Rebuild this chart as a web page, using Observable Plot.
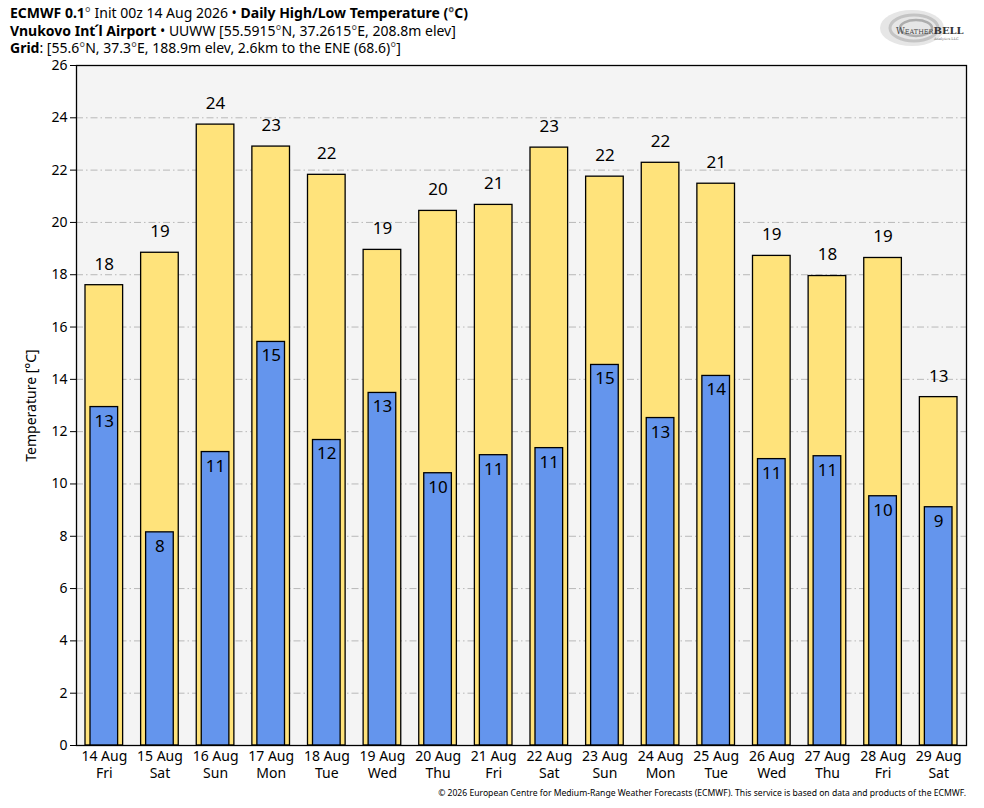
<!DOCTYPE html>
<html>
<head>
<meta charset="utf-8">
<script src="https://cdn.jsdelivr.net/npm/d3@7"></script>
<script src="https://cdn.jsdelivr.net/npm/@observablehq/plot@0.6"></script>
<style>
  html, body { margin: 0; padding: 0; background: #fff; }
  body { width: 984px; height: 808px; position: relative; overflow: hidden; font-family: "Noto Sans", sans-serif; color: #000; }
  #header { position: absolute; left: 10px; top: 4px; font-size: 14px; line-height: 17.5px; white-space: nowrap; z-index: 2; }
  #header b { font-weight: 700; }
  .deg { color: #555; }
  .acc { margin-left: -1px; margin-right: -1px; }
  #logo { position: absolute; left: 876px; top: 6px; z-index: 2; }
  #chart { position: absolute; left: 0; top: 40px; }
  #caption { position: absolute; right: 18px; top: 787px; font-size: 8.6px; white-space: nowrap; }
</style>
</head>
<body>
<div id="chart"></div>
<div id="header">
  <div><b>ECMWF 0.1</b><span class="deg">°</span> Init 00z 14 Aug 2026 • <b>Daily High/Low Temperature (<span class="deg">°</span>C)</b></div>
  <div><b>Vnukovo Int<span class="acc">´</span>l Airport</b> • UUWW [55.5915<span class="deg">°</span>N, 37.2615<span class="deg">°</span>E, 208.8m elev]</div>
  <div><b>Grid</b>: [55.6<span class="deg">°</span>N, 37.3<span class="deg">°</span>E, 188.9m elev, 2.6km to the ENE (68.6)<span class="deg">°</span>]</div>
</div>
<svg id="logo" width="94" height="44" viewBox="0 0 94 44">
  <ellipse cx="36" cy="22" rx="32" ry="18" fill="#e6e6e6"/>
  <ellipse cx="38" cy="22" rx="24" ry="13" fill="none" stroke="#c4c4c4" stroke-width="3"/>
  <ellipse cx="40" cy="22" rx="16" ry="8" fill="none" stroke="#adadad" stroke-width="2.5"/>
  <text x="20" y="28" font-family="DejaVu Serif, serif" font-size="8.5" fill="#444">W<tspan font-size="6.5">EATHER</tspan><tspan font-size="10" font-weight="bold" fill="#333">BELL</tspan></text>
  <text x="58" y="34" font-family="DejaVu Serif, serif" font-size="3.5" fill="#666">Analytics LLC</text>
</svg>
<div id="caption">© 2026 European Centre for Medium-Range Weather Forecasts (ECMWF). This service is based on data and products of the ECMWF.</div>
<script>
const days = ["14 Aug","15 Aug","16 Aug","17 Aug","18 Aug","19 Aug","20 Aug","21 Aug","22 Aug","23 Aug","24 Aug","25 Aug","26 Aug","27 Aug","28 Aug","29 Aug"];
const weekdays = ["Fri","Sat","Sun","Mon","Tue","Wed","Thu","Fri","Sat","Sun","Mon","Tue","Wed","Thu","Fri","Sat"];
const highs = [17.6,18.84,23.74,22.9,21.82,18.95,20.44,20.67,22.86,21.75,22.28,21.48,18.72,17.95,18.64,13.32];
const lows = [12.94,8.15,11.22,15.43,11.68,13.48,10.41,11.1,11.37,14.55,12.52,14.13,10.95,11.06,9.53,9.11];
const yTicks = [0,2,4,6,8,10,12,14,16,18,20,22,24,26];

const data = days.map((d, i) => ({day: d, wd: weekdays[i], high: highs[i], low: lows[i]}));

const chart = Plot.plot({
  width: 984,
  height: 768,
  marginTop: 25,
  marginBottom: 63,
  marginLeft: 76,
  marginRight: 18,
  style: {fontFamily: "Noto Sans", fontSize: "14px", background: "transparent", color: "#000"},
  x: {domain: days, padding: 0, round: false, label: null},
  y: {domain: [0, 26], label: null},
  marks: [
    Plot.frame({fill: "#f4f4f4", stroke: null}),
    Plot.gridY(yTicks, {stroke: "#b8b8b8", strokeOpacity: 1, strokeWidth: 1, strokeDasharray: "7,3,1.5,3"}),
    Plot.barY(data, {x: "day", y: "high", fill: "#ffe37b", stroke: "#000", strokeWidth: 1.3, insetLeft: 9, insetRight: 9}),
    Plot.barY(data, {x: "day", y: "low", fill: "#6495ed", stroke: "#000", strokeWidth: 1.3, insetLeft: 14, insetRight: 14}),
    Plot.text(data, {x: "day", y: "high", text: d => String(Math.round(d.high)), dy: -21, fontSize: 17, fill: "#000", lineAnchor: "middle"}),
    Plot.text(data, {x: "day", y: "low", text: d => String(Math.round(d.low)), dy: 14, fontSize: 17, fill: "#000", lineAnchor: "middle"}),
    Plot.axisY({ticks: yTicks, tickSize: 6, tickPadding: 3, fontSize: 14, label: "Temperature [°C]", labelAnchor: "center", labelOffset: 50, labelArrow: "none"}),
    Plot.axisX({tickSize: 0, tickPadding: 6, fontSize: 14, label: null}),
    Plot.axisX({tickSize: 0, tickPadding: 23, fontSize: 14, tickFormat: d => weekdays[days.indexOf(d)], label: null}),
    Plot.frame({stroke: "#000", strokeWidth: 1.3})
  ]
});
document.getElementById("chart").appendChild(chart);
</script>
</body>
</html>
